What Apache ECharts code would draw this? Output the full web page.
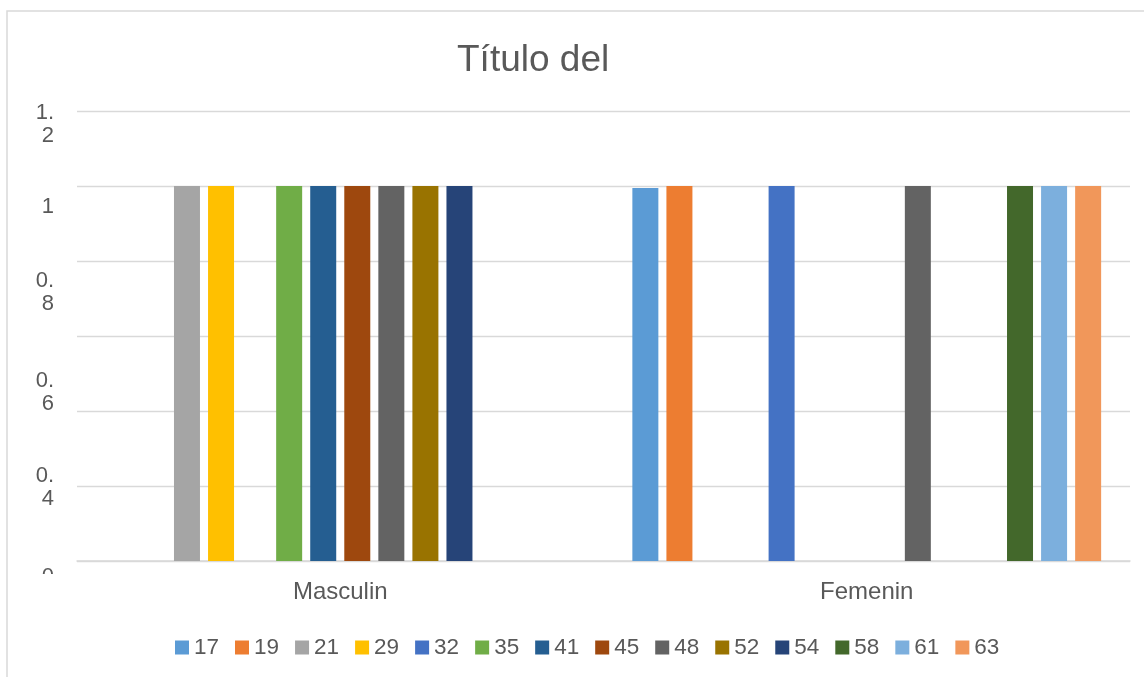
<!DOCTYPE html>
<html>
<head>
<meta charset="utf-8">
<title>Título del</title>
<script src="https://cdn.jsdelivr.net/npm/echarts@6/dist/echarts.min.js"></script>
<style>
  html, body { margin: 0; padding: 0; background: #fff; }
  #chart { width: 1144px; height: 677px; }
</style>
</head>
<body>
<div id="chart"></div>
<script>
  // datos
  const categories = ['Masculin', 'Femenin']
  const seriesNames = ['17', '19', '21', '29', '32', '35', '41', '45', '48', '52', '54', '58', '61', '63']
  const masculin = [null, null, 1, 1, null, 1, 1, 1, 1, 1, 1, null, null, null]
  const femenin = [0.995, 1, null, null, 1, null, null, null, 1, null, null, 1, 1, 1]
  const yTickValues = [0, 0.2, 0.4, 0.6, 0.8, 1, 1.2]
  const yTickShown = ['0', '0.4', '0.6', '0.8', '1', '1.2']

  // colores tipo Office
  const colors = ['#5B9BD5', '#ED7D31', '#A5A5A5', '#FFC000', '#4472C4', '#70AD47', '#255E91',
    '#9E480E', '#636363', '#997300', '#264478', '#43682B', '#7CAFDD', '#F1975A']

  // desplazamiento vertical de cada etiqueta del eje (como la dibuja Excel)
  const labelSpacer = { '1.2': 26, '1': 41, '0.8': 62, '0.6': 112, '0.4': 152, '0': 31 }

  const rich = { t: { fontSize: 22, lineHeight: 23, color: '#595959', fontFamily: 'Liberation Sans, Arial, sans-serif' } }
  Object.keys(labelSpacer).forEach(k => {
    rich['g' + labelSpacer[k]] = { fontSize: 1, lineHeight: labelSpacer[k] }
  })

  const chart = echarts.init(document.getElementById('chart'))
  chart.setOption({
    animation: false,
    textStyle: { fontFamily: 'Liberation Sans, Arial, sans-serif', color: '#595959' },
    title: {
      text: 'Título del',
      left: 452,
      top: 37,
      textStyle: { fontSize: 37, fontWeight: 'normal', color: '#595959' }
    },
    legend: {
      data: seriesNames,
      left: 170,
      top: 631,
      itemWidth: 14,
      itemHeight: 14,
      itemGap: 16,
      icon: 'rect',
      selectedMode: false,
      textStyle: { fontSize: 22.5, color: '#595959' }
    },
    grid: { left: 77, right: 14, top: 111, bottom: 116 },
    xAxis: {
      type: 'category',
      data: categories,
      axisTick: { show: false },
      axisLine: { lineStyle: { color: '#d9d9d9', width: 1.5 } },
      axisLabel: { fontSize: 24, color: '#595959', margin: 19 }
    },
    yAxis: {
      type: 'value',
      min: 0,
      max: 1.2,
      interval: 0.2,
      axisLine: { show: false },
      axisTick: { show: false },
      splitLine: { lineStyle: { color: '#d9d9d9', width: 1.3 } },
      axisLabel: {
        margin: 23,
        showMinLabel: true,
        showMaxLabel: true,
        rich: rich,
        formatter: function (value) {
          const key = String(Number(value.toFixed(1)))
          if (yTickShown.indexOf(key) < 0) return ''
          // Excel parte el número después del punto
          const parts = key.indexOf('.') >= 0 ? [key.slice(0, key.indexOf('.') + 1), key.slice(key.indexOf('.') + 1)] : [key]
          return '{g' + labelSpacer[key] + '| }\n' + parts.map(p => '{t|' + p + '}').join('\n')
        }
      }
    },
    graphic: [
      {
        type: 'rect',
        shape: { x: 7, y: 11, width: 1300, height: 900 },
        style: { fill: 'none', stroke: '#d9d9d9', lineWidth: 1.5 },
        z: 100,
        silent: true
      },
      {
        // Excel recorta la etiqueta del 0
        type: 'rect',
        shape: { x: 20, y: 574, width: 50, height: 24 },
        style: { fill: '#fff' },
        z: 100,
        silent: true
      }
    ],
    series: seriesNames.map((name, i) => ({
      name: name,
      type: 'bar',
      barWidth: 26,
      barGap: '31%',
      itemStyle: { color: colors[i] },
      data: [masculin[i], femenin[i]]
    }))
  })
</script>
</body>
</html>
